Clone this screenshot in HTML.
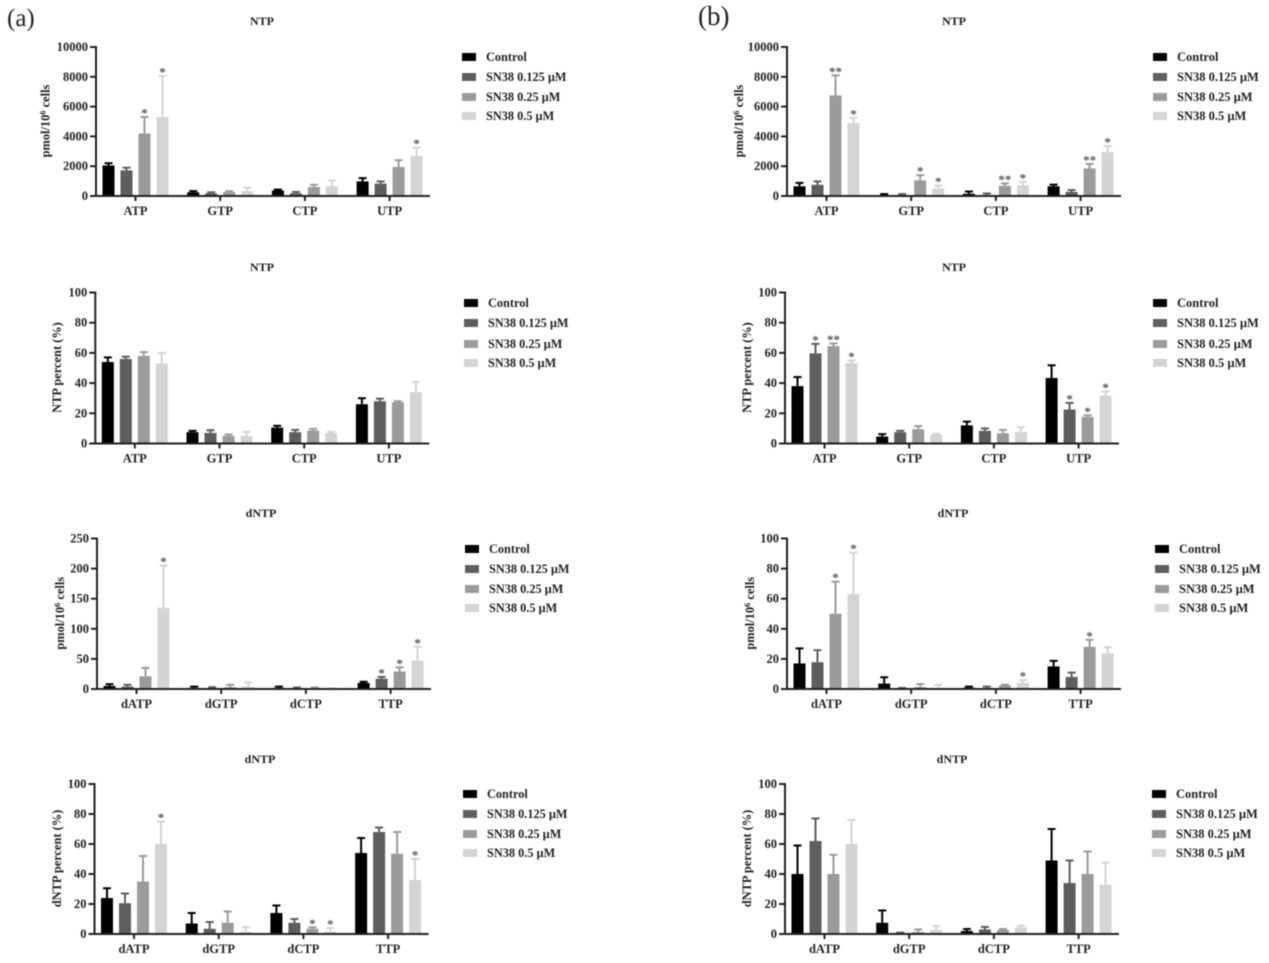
<!DOCTYPE html>
<html lang="en">
<head>
<meta charset="utf-8">
<title>NTP and dNTP levels</title>
<style>
html,body{margin:0;padding:0;background:#fff;width:1269px;height:963px;overflow:hidden}
svg{display:block;filter:blur(0.6px)}
text{font-family:"Liberation Serif",serif;font-weight:bold;fill:#222}
</style>
</head>
<body>
<svg id="figure" width="1269" height="963" viewBox="0 0 1269 963" xmlns="http://www.w3.org/2000/svg">
<text x="7" y="26" font-size="25" style="font-weight:normal">(a)</text>
<text x="698" y="25" font-size="27" style="font-weight:normal">(b)</text>
</svg>
<script>
const ntpCategories = ['ATP', 'GTP', 'CTP', 'UTP'];
const dntpCategories = ['dATP', 'dGTP', 'dCTP', 'TTP'];
const seriesNames = ['Control', 'SN38 0.125 µM', 'SN38 0.25 µM', 'SN38 0.5 µM'];
const ticksAmount = [0, 2000, 4000, 6000, 8000, 10000];
const ticksPercent = [0, 20, 40, 60, 80, 100];
const ticksDntpA = [0, 50, 100, 150, 200, 250];

// Each row is one category; each column one treatment.
const a1Means = [[2050, 1720, 4200, 5300], [250, 180, 260, 330], [370, 180, 600, 650], [980, 830, 1950, 2700]];
const a1Tops = [[2200, 1900, 5300, 8050], [330, 250, 320, 550], [430, 270, 750, 1050], [1200, 980, 2400, 3250]];
const a1Stars = [['', '', '*', '*'], ['', '', '', ''], ['', '', '', ''], ['', '', '', '*']];

const a2Means = [[54, 56, 58, 53], [7.5, 7, 5, 5], [10.5, 7.5, 8.6, 6.8], [26, 28, 27.3, 34]];
const a2Tops = [[57, 57.5, 60.5, 60], [8.4, 8.8, 6, 7.7], [11.7, 9, 9.7, 7.7], [30, 29.7, 28, 40.7]];
const a2Stars = [['', '', '', ''], ['', '', '', ''], ['', '', '', ''], ['', '', '', '']];

const a3Means = [[5, 4, 21, 135], [2, 1, 3, 4], [2, 1, 1, 0.5], [10, 17, 29, 47]];
const a3Tops = [[8, 7, 35, 205], [4, 3, 7, 11], [4, 2.5, 2.5, 1], [12, 20, 36, 70]];
const a3Stars = [['', '', '', '*'], ['', '', '', ''], ['', '', '', ''], ['', '*', '*', '*']];

const a4Means = [[24, 20.5, 35, 60], [7, 3.5, 7.5, 1.5], [14, 7.5, 3.5, 1.5], [54, 68, 53.5, 36]];
const a4Tops = [[30.5, 27, 52, 75], [14, 8, 15, 4.5], [19, 10, 4.5, 4], [64, 71, 68, 50]];
const a4Stars = [['', '', '', '*'], ['', '', '', ''], ['', '', '*', '*'], ['', '', '', '*']];

const b1Means = [[650, 750, 6750, 4900], [50, 50, 1050, 500], [150, 70, 680, 720], [650, 270, 1850, 2950]];
const b1Tops = [[880, 980, 8100, 5250], [130, 130, 1400, 700], [300, 170, 850, 950], [760, 400, 2150, 3350]];
const b1Stars = [['', '', '**', '*'], ['', '', '*', '*'], ['', '', '**', '*'], ['', '', '**', '*']];

const b2Means = [[38, 59.7, 64.5, 53.3], [4.6, 7.5, 9.5, 5.7], [12, 8.4, 6.8, 7.7], [43.4, 22.5, 17.6, 31.7]];
const b2Tops = [[44, 66, 66.3, 55], [6.2, 8.4, 11.5, 6.4], [14.5, 10, 9, 10.8], [51.8, 26.9, 18.7, 34.4]];
const b2Stars = [['', '*', '**', '*'], ['', '', '', ''], ['', '', '', ''], ['', '*', '*', '*']];

const b3Means = [[17, 17.8, 50, 63], [3.6, 0.5, 1.3, 0.5], [0.9, 0.7, 2.4, 4.2], [15, 8, 28, 23.8]];
const b3Tops = [[27, 25.8, 71.3, 90.7], [7.8, 0.7, 3.3, 2.7], [1.6, 1.6, 2.9, 6], [18.7, 10.9, 32.7, 27.8]];
const b3Stars = [['', '', '*', '*'], ['', '', '', ''], ['', '', '', '*'], ['', '', '*', '']];

const b4Means = [[40, 62, 40, 60], [7.5, 0.7, 1.3, 2.7], [2, 3, 2.7, 4.4], [49, 34, 40, 32.8]];
const b4Tops = [[59, 77, 52.8, 76], [15.7, 0.9, 3, 5.3], [3.3, 4.7, 3.3, 5.5], [70, 49, 55, 47.5]];
const b4Stars = [['', '', '', ''], ['', '', '', ''], ['', '', '', ''], ['', '', '', '']];

const seriesColors = ['#000000', '#5e5e5e', '#9b9b9f', '#d4d4d4'];
const starColor = '#555555';
const svgNS = 'http://www.w3.org/2000/svg';
const figure = document.getElementById('figure');

function create(parent, tag, attrs, name) {
  const el = document.createElementNS(svgNS, tag);
  for (const k in attrs) el.setAttribute(k, attrs[k]);
  
  
  parent.appendChild(el);
  return el;
}

function line(parent, x1, y1, x2, y2, color, width, name) {
  return create(parent, 'line', { x1: x1, y1: y1, x2: x2, y2: y2, stroke: color, 'stroke-width': width }, name);
}

function label(parent, x, y, text, size, anchor, name) {
  const el = create(parent, 'text', { x: x, y: y, 'font-size': size, 'text-anchor': anchor }, name);
  el.textContent = text;
  return el;
}

function yTitle(parent, x, y, p) {
  const el = create(parent, 'text', { transform: 'rotate(-90 ' + x + ' ' + y + ')', x: x, y: y, 'font-size': 12.4, 'text-anchor': 'middle' }, 'y-axis-title');
  if (p.isAmount) {
    el.appendChild(document.createTextNode('pmol/10'));
    const sup = create(el, 'tspan', { dy: -4, 'font-size': 8.5 }, 'y-axis-title-exponent');
    sup.textContent = '6';
    const rest = create(el, 'tspan', { dy: 4 }, 'y-axis-title-unit');
    rest.textContent = ' cells';
  } else {
    el.textContent = p.titleY;
  }
}

function drawPanel(p) {
  const g = create(figure, 'g', {}, 'chart-' + p.id);
  const maxTick = p.ticks[p.ticks.length - 1];
  const yScale = function (v) { return p.bottom - (v / maxTick) * (p.bottom - p.top); };
  const xGroup = function (i) { return p.axisX + 39.5 + i * 84.7; };
  const xBar = function (i, s) { return xGroup(i) + (s - 1.5) * 18; };
  const barW = 12;

  label(g, p.titleX, p.titleTop, p.title, 12, 'middle', 'chart-title');
  yTitle(g, p.yTitleX, (p.top + p.bottom) / 2 - 0.5, p);

  p.means.forEach(function (row, i) {
    row.forEach(function (v, s) {
      const cx = xBar(i, s);
      const topY = yScale(p.tops[i][s]);
      const col = seriesColors[s];
      line(g, cx, yScale(v), cx, topY, col, 2, 'error-bar');
      line(g, cx - 4, topY, cx + 4, topY, col, 2, 'error-cap');
      create(g, 'rect', { x: cx - barW / 2, y: yScale(v), width: barW, height: Math.max(0, p.bottom - yScale(v)), fill: col }, 'bar-' + p.cats[i] + '-' + s);
      if (p.stars[i][s]) {
        const st = label(g, cx, topY + 0.5, p.stars[i][s], 13, 'middle', 'significance-star');
        st.style.fill = starColor;
      }
    });
  });

  line(g, p.axisX, p.top - 1, p.axisX, p.bottom + 1, '#222', 2, 'y-axis');
  line(g, p.axisX - 6, p.bottom, p.axisX + 334, p.bottom, '#222', 2, 'x-axis');

  p.ticks.forEach(function (t) {
    const y = yScale(t);
    line(g, p.axisX - 6, y, p.axisX, y, '#222', 2, 'y-tick');
    label(g, p.axisX - 8, y + 4, String(t), 12.5, 'end', 'y-tick-label');
  });

  p.cats.forEach(function (c, i) {
    const x = xGroup(i);
    line(g, x, p.bottom, x, p.bottom + 5, '#222', 2, 'x-tick');
    label(g, x, p.bottom + 19, c, 12.5, 'middle', 'x-tick-label');
  });

  seriesNames.forEach(function (n, s) {
    const y = p.legendTop + p.legendGaps[s];
    create(g, 'rect', { x: p.legendX, y: y - 4, width: 14, height: 8, fill: seriesColors[s] }, 'legend-swatch');
    label(g, p.legendX + 24, y + 4, n, p.legendFont, 'start', 'legend-entry');
  });
}

const legendGaps = [0, 20, 40, 59];

drawPanel({ id: 'a-ntp-amount', title: 'NTP', titleX: 262, titleTop: 25, axisX: 96, top: 47, bottom: 196, ticks: ticksAmount, cats: ntpCategories, means: a1Means, tops: a1Tops, stars: a1Stars, isAmount: true, yTitleX: 49.5, legendX: 462, legendTop: 57, legendGaps: legendGaps, legendFont: 12.3 });
drawPanel({ id: 'a-ntp-percent', title: 'NTP', titleX: 262, titleTop: 271, axisX: 95.3, top: 292.5, bottom: 443.5, ticks: ticksPercent, cats: ntpCategories, means: a2Means, tops: a2Tops, stars: a2Stars, titleY: 'NTP percent (%)', yTitleX: 61, legendX: 464, legendTop: 303, legendGaps: [0, 20, 41, 60], legendFont: 12.3 });
drawPanel({ id: 'a-dntp-amount', title: 'dNTP', titleX: 261, titleTop: 517, axisX: 97, top: 538.5, bottom: 689, ticks: ticksDntpA, cats: dntpCategories, means: a3Means, tops: a3Tops, stars: a3Stars, isAmount: true, yTitleX: 64, legendX: 465, legendTop: 549, legendGaps: legendGaps, legendFont: 12.3 });
drawPanel({ id: 'a-dntp-percent', title: 'dNTP', titleX: 260, titleTop: 763, axisX: 94.5, top: 784, bottom: 934, ticks: ticksPercent, cats: dntpCategories, means: a4Means, tops: a4Tops, stars: a4Stars, titleY: 'dNTP percent (%)', yTitleX: 61, legendX: 463, legendTop: 794, legendGaps: legendGaps, legendFont: 12.3 });

drawPanel({ id: 'b-ntp-amount', title: 'NTP', titleX: 954, titleTop: 25, axisX: 787, top: 47, bottom: 196, ticks: ticksAmount, cats: ntpCategories, means: b1Means, tops: b1Tops, stars: b1Stars, isAmount: true, yTitleX: 743, legendX: 1153, legendTop: 57, legendGaps: legendGaps, legendFont: 12.5 });
drawPanel({ id: 'b-ntp-percent', title: 'NTP', titleX: 954, titleTop: 271, axisX: 785, top: 292.5, bottom: 443.5, ticks: ticksPercent, cats: ntpCategories, means: b2Means, tops: b2Tops, stars: b2Stars, titleY: 'NTP percent (%)', yTitleX: 751, legendX: 1153, legendTop: 303, legendGaps: [0, 20, 41, 60], legendFont: 12.5 });
drawPanel({ id: 'b-dntp-amount', title: 'dNTP', titleX: 953, titleTop: 517, axisX: 787, top: 538.5, bottom: 689, ticks: ticksPercent, cats: dntpCategories, means: b3Means, tops: b3Tops, stars: b3Stars, isAmount: true, yTitleX: 754, legendX: 1155, legendTop: 549, legendGaps: legendGaps, legendFont: 12.5 });
drawPanel({ id: 'b-dntp-percent', title: 'dNTP', titleX: 952, titleTop: 763, axisX: 785, top: 784, bottom: 934, ticks: ticksPercent, cats: dntpCategories, means: b4Means, tops: b4Tops, stars: b4Stars, titleY: 'dNTP percent (%)', yTitleX: 751, legendX: 1152, legendTop: 794, legendGaps: legendGaps, legendFont: 12.5 });
</script>
</body>
</html>
